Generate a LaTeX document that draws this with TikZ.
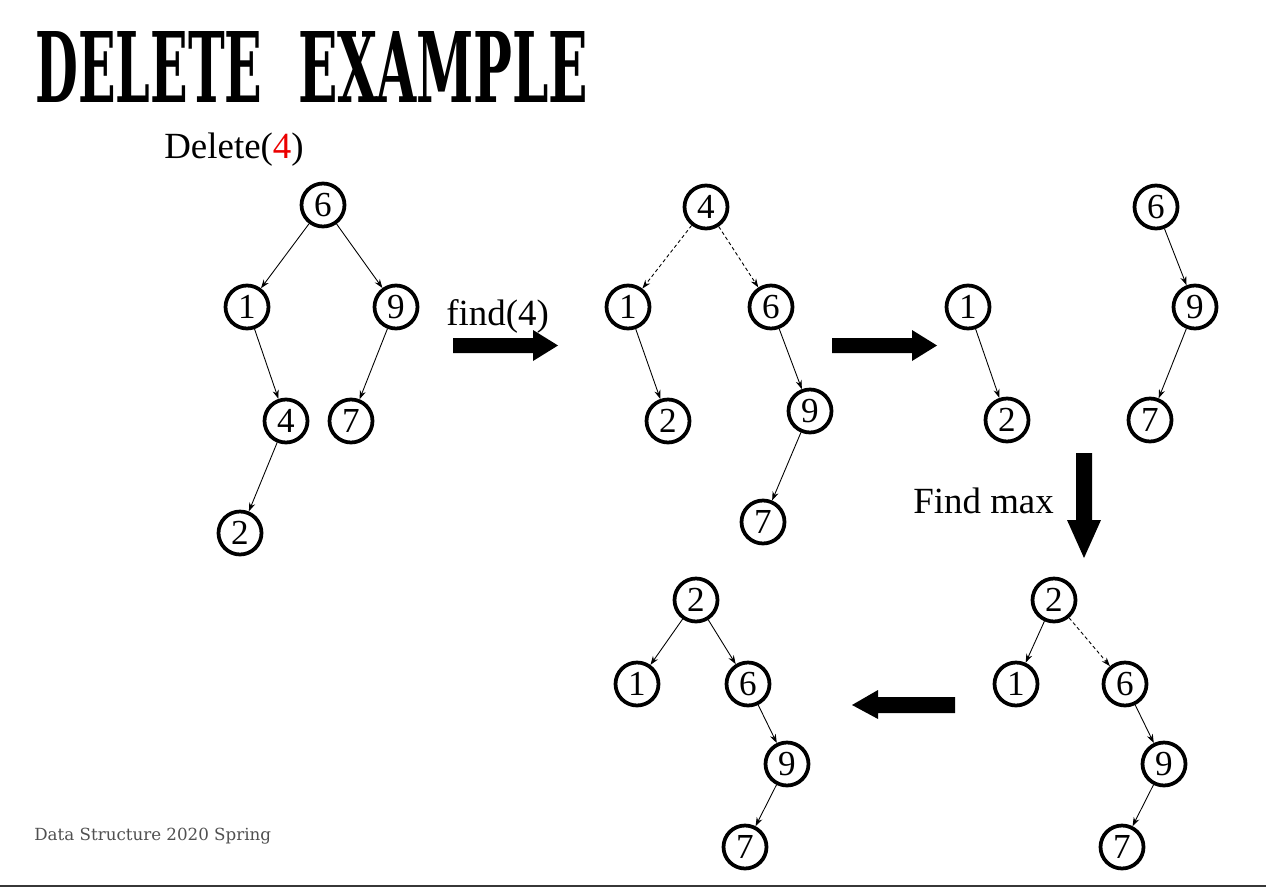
\documentclass[tikz,border=0pt]{standalone}
\usepackage{graphicx}
\usepackage{xcolor}
\usepackage{fontspec}
\setmainfont{Liberation Serif}
\newfontfamily\slabfont{DejaVu Serif}
\usetikzlibrary{arrows.meta}
\definecolor{footgray}{RGB}{80,80,80}
\definecolor{delred}{RGB}{235,0,0}
\definecolor{rulegray}{RGB}{55,55,55}

\begin{document}
\begin{tikzpicture}[x=0.02cm,y=-0.02cm,
  key/.style={draw,circle,line width=0.075cm,minimum size=0.86cm,inner sep=0pt,font=\fontsize{20}{20}\selectfont},
  link/.style={-{Stealth[length=5pt,width=3.5pt]},line width=0.5pt},
  weak/.style={link,dash pattern=on 2pt off 1.5pt},
  say/.style={anchor=base west,inner sep=0pt,font=\fontsize{21}{25}\selectfont},
  headword/.style={anchor=south west,inner sep=0pt},
  bigarrow/.style={fill=black}]
\useasboundingbox (0,0) rectangle (1266,888);
% Title and captions
\node[headword] (title1) at (35,103) {\resizebox{4.54cm}{1.42cm}{\slabfont\bfseries DELETE}};
\node[headword] (title2) at (298,103) {\resizebox{5.8cm}{1.42cm}{\slabfont\bfseries EXAMPLE}};
\node[say] (cmd) at (164,159) {Delete(\textcolor{delred}{4})};
\node[say] (find) at (446,325) {find(4)};
\node[say] (fmax) at (913,513) {Find max};
\node[anchor=base west,inner sep=0pt,text=footgray,font=\slabfont\fontsize{9.5}{11}\selectfont] (foot) at (34,840) {Data Structure 2020 Spring};

% Tree before deletion
\node[key] (a6) at (323,205) {6};
\node[key] (a1) at (247,307) {1};
\node[key] (a9) at (396,307) {9};
\node[key] (a4) at (286,421) {4};
\node[key] (a7) at (351,421) {7};
\node[key] (a2) at (240,533) {2};
\draw[link] (a6) -- (a1);
\draw[link] (a6) -- (a9);
\draw[link] (a1) -- (a4);
\draw[link] (a9) -- (a7);
\draw[link] (a4) -- (a2);

% Node 4 found
\node[key] (b4) at (706,207) {4};
\node[key] (b1) at (628,307) {1};
\node[key] (b6) at (771,307) {6};
\node[key] (b2) at (668,421) {2};
\node[key] (b9) at (810,411) {9};
\node[key] (b7) at (763,522) {7};
\draw[weak] (b4) -- (b1);
\draw[weak] (b4) -- (b6);
\draw[link] (b1) -- (b2);
\draw[link] (b6) -- (b9);
\draw[link] (b9) -- (b7);

% Two subtrees
\node[key] (c1) at (968,307) {1};
\node[key] (c2) at (1007,420) {2};
\node[key] (c6) at (1156,207) {6};
\node[key] (c9) at (1195,307) {9};
\node[key] (c7) at (1150,420) {7};
\draw[link] (c1) -- (c2);
\draw[link] (c6) -- (c9);
\draw[link] (c9) -- (c7);

% Max of left subtree moved up
\node[key] (d2) at (1054,600) {2};
\node[key] (d1) at (1016,684) {1};
\node[key] (d6) at (1125,684) {6};
\node[key] (d9) at (1164,764) {9};
\node[key] (d7) at (1122,847) {7};
\draw[link] (d2) -- (d1);
\draw[weak] (d2) -- (d6);
\draw[link] (d6) -- (d9);
\draw[link] (d9) -- (d7);

% Result
\node[key] (e2) at (696,600) {2};
\node[key] (e1) at (637,684) {1};
\node[key] (e6) at (748,684) {6};
\node[key] (e9) at (787,764) {9};
\node[key] (e7) at (745,847) {7};
\draw[link] (e2) -- (e1);
\draw[link] (e2) -- (e6);
\draw[link] (e6) -- (e9);
\draw[link] (e9) -- (e7);

% Block arrows
\fill[bigarrow] (453,338) -- (533,338) -- (533,330) -- (558,345.5) -- (533,361) -- (533,353) -- (453,353) -- cycle;
\fill[bigarrow] (832,338) -- (912,338) -- (912,330) -- (937,345.5) -- (912,361) -- (912,353) -- (832,353) -- cycle;
\fill[bigarrow] (1076,453) -- (1092,453) -- (1092,520) -- (1101,520) -- (1084,558) -- (1067,520) -- (1076,520) -- cycle;
\fill[bigarrow] (955,697) -- (878,697) -- (878,690) -- (852,705) -- (878,719) -- (878,713) -- (955,713) -- cycle;

\draw[rulegray,line width=0.04cm] (0,886) -- (1266,886);
\end{tikzpicture}
\end{document}
